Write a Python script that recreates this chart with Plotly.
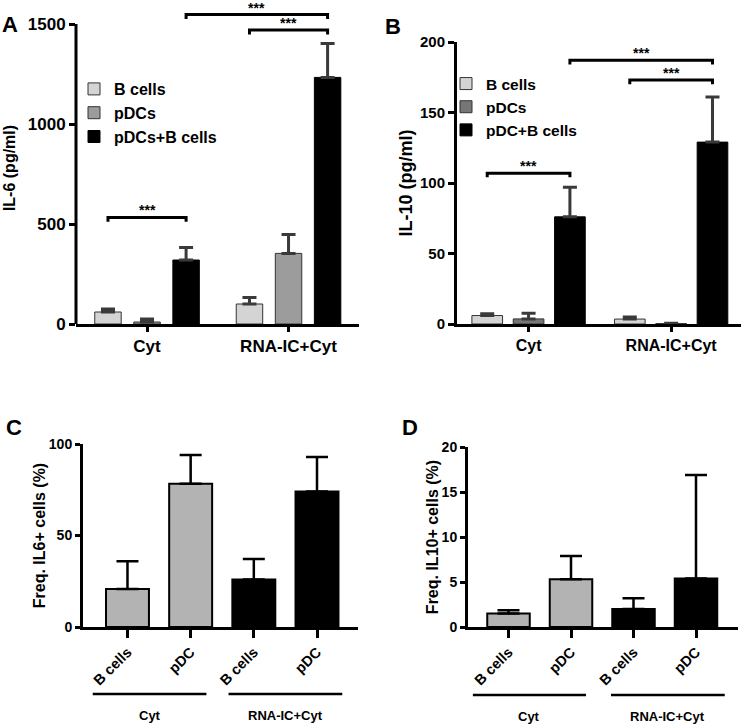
import plotly.graph_objects as go

# ---------------- data ----------------
categories = ["Cyt", "RNA-IC+Cyt"]

il6_names = ["B cells", "pDCs", "pDCs+B cells"]
il6_bcells = [60, 100]
il6_bcells_err = [15, 32]
il6_pdcs = [10, 353]
il6_pdcs_err = [15, 94]
il6_combo = [320, 1233]
il6_combo_err = [62, 170]

il10_names = ["B cells", "pDCs", "pDC+B cells"]
il10_bcells = [6, 3.5]
il10_bcells_err = [1.3, 1.5]
il10_pdcs = [3.6, 0.3]
il10_pdcs_err = [4.0, 0.3]
il10_combo = [76, 129]
il10_combo_err = [21, 32]

freq_ticks = ["B cells", "pDC", "B cells", "pDC"]
freq_groups = ["Cyt", "RNA-IC+Cyt"]
freq_il6 = [20.8, 78.3, 25.9, 74.0]
freq_il6_err = [15.1, 15.7, 11.3, 18.9]
freq_il10 = [1.5, 5.3, 2.0, 5.4]
freq_il10_err = [0.35, 2.6, 1.2, 11.5]

# significance brackets: (group, series) -> (group, series), height
il6_brackets = [((0, 0), (0, 2), 533), ((0, 2), (1, 2), 1547), ((1, 0), (1, 2), 1470)]
il10_brackets = [((0, 0), (0, 2), 107), ((0, 2), (1, 2), 187), ((1, 0), (1, 2), 173)]
sig_label = "***"

# ---------------- layout helpers ----------------
W, H = 742, 725
FONT = "Liberation Sans, Arial, sans-serif"


def fx(p):
    return p / W


def fy(p):
    return 1 - p / H


fig = go.Figure()

LIGHT = "#d4d4d4"
MID_A = "#9c9c9c"
MID_B = "#767676"
BLACK = "#000000"
ERR = "#3a3a3a"


def add_grouped(xa, ya, names, means, errs, colors, pitch, width, legend):
    for i, (nm, m, e, c) in enumerate(zip(names, means, errs, colors)):
        fig.add_trace(go.Bar(
            x=categories, y=m, name=nm,
            marker=dict(color=c, line=dict(color="#333333" if c != BLACK else BLACK, width=1)),
            width=width, offset=(i - 1) * pitch - width / 2,
            error_y=dict(type="data", array=e, arrayminus=[0] * len(e), symmetric=False,
                         color=ERR, thickness=3, width=7),
            xaxis=xa, yaxis=ya, legend=legend,
        ))


A_PITCH, A_W = 0.276, 0.187
B_PITCH, B_W = 0.29, 0.215

add_grouped("x", "y", il6_names, [il6_bcells, il6_pdcs, il6_combo],
            [il6_bcells_err, il6_pdcs_err, il6_combo_err], [LIGHT, MID_A, BLACK],
            A_PITCH, A_W, "legend")
add_grouped("x2", "y2", il10_names, [il10_bcells, il10_pdcs, il10_combo],
            [il10_bcells_err, il10_pdcs_err, il10_combo_err], [LIGHT, MID_B, BLACK],
            B_PITCH, B_W, "legend2")

# panel C / D
freq_colors = ["#b3b3b3", "#b3b3b3", BLACK, BLACK]
for xa, ya, vals, errs in [("x3", "y3", freq_il6, freq_il6_err), ("x4", "y4", freq_il10, freq_il10_err)]:
    fig.add_trace(go.Bar(
        x=list(range(len(vals))), y=vals, width=0.68,
        marker=dict(color=freq_colors, line=dict(color=BLACK, width=2)),
        error_y=dict(type="data", array=errs, arrayminus=[0] * len(errs), symmetric=False,
                     color=BLACK, thickness=2.5, width=11),
        xaxis=xa, yaxis=ya, showlegend=False,
    ))

shapes = []
annotations = []


def brackets(xref, yref, blist, pitch, drop, fsize):
    for (g0, s0), (g1, s1), h in blist:
        xa = g0 + (s0 - 1) * pitch
        xb = g1 + (s1 - 1) * pitch
        shapes.append(dict(type="path", xref=xref, yref=yref,
                           path=f"M{xa},{h - drop} L{xa},{h} L{xb},{h} L{xb},{h - drop}",
                           line=dict(color=BLACK, width=3)))
        annotations.append(dict(x=(xa + xb) / 2, y=h, xref=xref, yref=yref, text=sig_label,
                                showarrow=False, xanchor="center", yanchor="bottom", yshift=-3,
                                font=dict(family=FONT, size=fsize, color=BLACK, weight="bold")))


brackets("x", "y", il6_brackets, A_PITCH, 22, 14)
brackets("x2", "y2", il10_brackets, B_PITCH, 3, 14)

# y spine for panel A (range extended above 1500 for brackets)
shapes.append(dict(type="line", xref="x domain", yref="y", x0=0, x1=0, y0=0, y1=1500,
                   line=dict(color=BLACK, width=3)))

# group lines under panels C / D
for xref, spans, ly, ty in [("x3", [(-0.55, 1.25), (1.6, 3.4)], 694, 715),
                            ("x4", [(-0.57, 1.24), (1.64, 3.46)], 695, 716)]:
    for (a, b), lab in zip(spans, freq_groups):
        shapes.append(dict(type="line", xref=xref, yref="paper", x0=a, x1=b, y0=fy(ly), y1=fy(ly),
                           line=dict(color=BLACK, width=2.5)))
        annotations.append(dict(x=(a + b) / 2, y=fy(ty), xref=xref, yref="paper", text=lab,
                                xanchor="center", yanchor="middle", showarrow=False,
                                font=dict(family=FONT, size=13, color=BLACK, weight="bold")))

# panel letters
for lab, (px, pyy) in zip("ABCD", [(10, 25), (393, 26), (14, 427), (410, 427)]):
    annotations.append(dict(x=fx(px), y=fy(pyy), xref="paper", yref="paper", text=lab,
                            xanchor="center", yanchor="middle", showarrow=False,
                            font=dict(family=FONT, size=22, color=BLACK, weight="bold")))


def axis_common(fsize, ticklen=6, showline=True):
    return dict(showline=showline, linecolor=BLACK, linewidth=3, ticks="outside", tickcolor=BLACK,
                tickwidth=3, ticklen=ticklen, showgrid=False, zeroline=False, automargin=False,
                tickfont=dict(family=FONT, size=fsize, color=BLACK, weight="bold"))


def ytitle(text, size, standoff):
    return dict(text=text, font=dict(family=FONT, size=size, color=BLACK, weight="bold"), standoff=standoff)


fig.update_layout(
    width=W, height=H, margin=dict(l=0, r=0, t=0, b=0, autoexpand=False),
    paper_bgcolor="white", plot_bgcolor="white",
    barmode="overlay", shapes=shapes, annotations=annotations,
    xaxis=dict(**axis_common(17, 5), domain=[fx(76), fx(359)], range=[-0.502, 1.498], anchor="y"),
    yaxis=dict(**axis_common(17, 6, False), domain=[fy(324), fy(12)], range=[0, 1560],
               tickvals=[0, 500, 1000, 1500], anchor="x", title=ytitle("IL-6 (pg/ml)", 16, 8)),
    xaxis2=dict(**axis_common(16, 5), domain=[fx(457), fx(741)], range=[-0.502, 1.49], anchor="y2"),
    yaxis2=dict(**axis_common(15), domain=[fy(324), fy(42)], range=[0, 200],
                tickvals=[0, 50, 100, 150, 200], anchor="x2", title=ytitle("IL-10 (pg/ml)", 18, 3)),
    xaxis3=dict(**axis_common(14.5, 8), domain=[fx(83), fx(358)], range=[-0.704, 3.649], anchor="y3",
                tickvals=[0, 1, 2, 3], ticktext=freq_ticks, tickangle=-45),
    yaxis3=dict(**axis_common(14, 5), domain=[fy(627), fy(444)], range=[0, 100],
                tickvals=[0, 50, 100], anchor="x3", title=ytitle("Freq. IL6+ cells (%)", 16, 0)),
    xaxis4=dict(**axis_common(14.5, 8), domain=[fx(468), fx(738)], range=[-0.648, 3.672], anchor="y4",
                tickvals=[0, 1, 2, 3], ticktext=freq_ticks, tickangle=-45),
    yaxis4=dict(**axis_common(14, 5), domain=[fy(627), fy(447)], range=[0, 20],
                tickvals=[0, 5, 10, 15, 20], anchor="x4", title=ytitle("Freq. IL10+ cells (%)", 16, 0)),
    legend=dict(x=fx(74), y=fy(72), xanchor="left", yanchor="top", bgcolor="rgba(0,0,0,0)",
                font=dict(family=FONT, size=16, color=BLACK, weight="bold"), itemwidth=30),
    legend2=dict(x=fx(446), y=fy(67), xanchor="left", yanchor="top", bgcolor="rgba(0,0,0,0)",
                 font=dict(family=FONT, size=15.5, color=BLACK, weight="bold"), itemwidth=30),
)

fig.write_html("out.html", config={"displayModeBar": False},
               post_script="document.body.style.margin='0';document.body.style.overflow='hidden';")
